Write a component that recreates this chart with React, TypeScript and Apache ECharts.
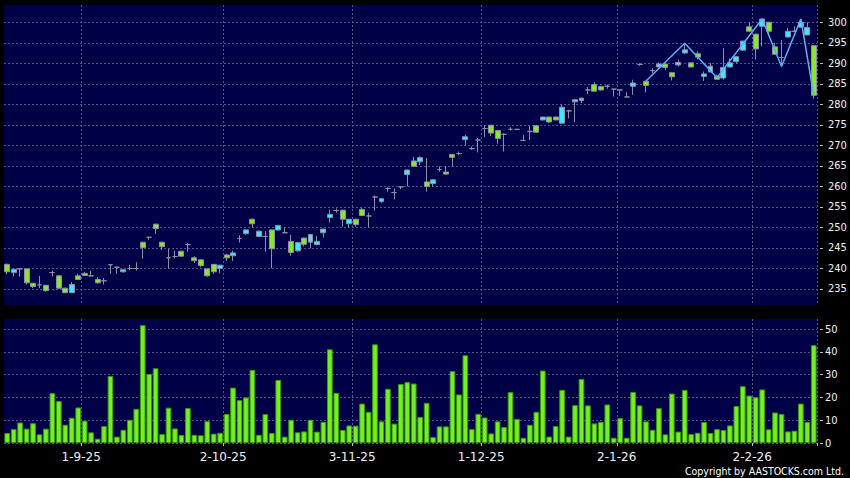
import React, { useEffect, useRef } from "react";
import * as echarts from "echarts";

// Trading days (HK), Aug 2025 - Feb 2026
const aug25 = [14, 15, 18, 19, 20, 21, 22, 25, 26, 27, 28, 29];
const sep25 = [1, 2, 3, 4, 5, 8, 9, 10, 11, 12, 15, 16, 17, 18, 19, 22, 23, 24, 25, 26, 29, 30];
const oct25 = [2, 3, 6, 8, 9, 10, 13, 14, 15, 16, 17, 20, 21, 22, 23, 24, 27, 28, 30, 31];
const nov25 = [3, 4, 5, 6, 7, 10, 11, 12, 13, 14, 17, 18, 19, 20, 21, 24, 25, 26, 27, 28];
const dec25 = [1, 2, 3, 4, 5, 8, 9, 10, 11, 12, 15, 16, 17, 18, 19, 22, 23, 24, 29, 30, 31];
const jan26 = [2, 5, 6, 7, 8, 9, 12, 13, 14, 15, 16, 19, 20, 21, 22, 23, 26, 27, 28, 29, 30];
const feb26 = [2, 3, 4, 5, 6, 9, 10, 11, 12, 13];

const monthDays: [number, number, number[]][] = [
  [8, 25, aug25], [9, 25, sep25], [10, 25, oct25], [11, 25, nov25],
  [12, 25, dec25], [1, 26, jan26], [2, 26, feb26],
];
const dates: string[] = [];
monthDays.forEach(([m, y, days]) => days.forEach((d) => dates.push(`${d}-${m}-${y}`)));

const xTickLabels = ["1-9-25", "2-10-25", "3-11-25", "1-12-25", "2-1-26", "2-2-26"];
const priceTicks = [235, 240, 245, 250, 255, 260, 265, 270, 275, 280, 285, 290, 295, 300];
const volumeTicks = [0, 10, 20, 30, 40, 50];

const opens = [
  241.0, 239.0, 239.9, 239.9, 236.4, 236.0, 235.9, 239.0, 238.2, 235.2,
  234.1, 238.2, 238.8, 238.2, 237.3, 237.0, 240.9, 240.3, 239.2, 240.0,
  240.0, 246.4, 247.6, 250.8, 246.4, 242.6, 242.9, 244.2, 245.8, 242.6,
  242.1, 239.9, 241.0, 240.0, 243.3, 243.1, 247.3, 248.5, 252.0, 247.8,
  247.8, 249.4, 249.4, 248.7, 246.6, 244.3, 247.4, 246.4, 245.8, 248.7,
  252.4, 254.1, 254.2, 250.9, 252.0, 254.4, 252.8, 257.4, 256.3, 259.5,
  258.5, 259.9, 262.9, 266.2, 266.0, 261.1, 260.7, 264.1, 263.5, 267.8,
  268.0, 271.4, 269.2, 271.3, 274.1, 274.9, 273.6, 272.7, 273.9, 273.9,
  271.2, 273.4, 274.8, 276.2, 276.9, 276.9, 275.4, 278.4, 280.6, 281.5,
  283.5, 284.8, 284.3, 284.4, 283.7, 283.5, 281.8, 284.4, 289.7, 285.6,
  288.2, 289.1, 289.8, 287.7, 289.6, 292.5, 290.1, 292.3, 286.8, 287.9,
  286.9, 286.4, 289.1, 290.4, 293.2, 298.9, 297.1, 299.0, 300.0, 294.0,
  291.4, 296.4, 297.8, 298.8, 296.9, 294.3,
];
const closes = [
  239.2, 239.8, 239.9, 236.5, 235.6, 236.0, 234.6, 239.0, 235.2, 234.1,
  236.1, 237.3, 238.3, 238.2, 236.5, 237.0, 240.9, 240.3, 239.7, 240.0,
  240.0, 245.1, 247.6, 249.7, 245.3, 242.6, 242.9, 243.0, 245.8, 241.9,
  240.7, 238.2, 239.2, 240.8, 242.6, 243.8, 247.3, 249.4, 250.9, 249.1,
  247.8, 244.8, 250.5, 248.7, 243.9, 246.3, 245.9, 248.3, 246.6, 249.6,
  253.2, 254.1, 252.0, 252.0, 250.7, 252.9, 252.8, 257.4, 257.0, 259.5,
  258.5, 259.9, 264.0, 264.9, 267.0, 260.0, 261.6, 264.1, 263.0, 267.1,
  268.0, 272.1, 269.2, 271.3, 274.1, 273.0, 271.7, 272.7, 273.9, 273.9,
  271.2, 273.4, 273.2, 276.9, 275.7, 276.2, 279.3, 278.4, 281.1, 280.9,
  283.5, 283.2, 283.5, 284.4, 283.7, 283.5, 281.8, 285.2, 289.7, 284.6,
  288.2, 289.8, 289.0, 286.7, 290.2, 293.3, 289.1, 291.5, 287.4, 289.3,
  286.1, 289.0, 290.1, 291.6, 295.4, 297.8, 293.5, 300.8, 297.8, 292.2,
  291.4, 297.8, 297.8, 300.0, 298.7, 282.2,
];
const lows = [
  238.6, 238.0, 238.0, 236.1, 235.2, 235.2, 234.3, 238.0, 235.0, 234.0,
  234.0, 237.2, 238.2, 238.0, 236.3, 236.1, 238.7, 238.7, 239.0, 239.6,
  239.5, 242.4, 247.0, 248.4, 244.5, 239.9, 242.5, 242.9, 244.1, 241.3,
  240.3, 238.0, 238.7, 238.8, 241.8, 241.8, 246.3, 248.2, 250.0, 247.6,
  244.1, 240.0, 249.2, 248.6, 243.1, 244.1, 245.4, 244.9, 245.7, 247.5,
  251.2, 253.6, 250.2, 250.0, 250.2, 252.8, 250.0, 254.1, 256.0, 258.7,
  256.8, 259.3, 260.0, 264.8, 265.2, 258.7, 260.0, 263.6, 262.9, 264.8,
  267.6, 270.0, 268.9, 268.3, 272.0, 272.3, 270.4, 268.5, 273.6, 273.7,
  271.1, 271.3, 273.0, 276.0, 275.5, 276.1, 275.3, 276.6, 275.6, 280.3,
  282.5, 283.1, 283.4, 283.8, 281.9, 282.0, 281.7, 282.3, 289.4, 282.9,
  287.6, 289.0, 288.3, 285.8, 289.2, 292.3, 289.0, 291.0, 285.7, 287.8,
  286.0, 286.0, 289.0, 290.0, 293.0, 297.6, 290.9, 294.1, 296.7, 292.0,
  289.2, 296.3, 297.6, 298.7, 296.8, 281.4,
];
const highs = [
  241.2, 239.9, 240.0, 240.0, 236.5, 238.2, 236.0, 239.5, 238.4, 235.3,
  236.7, 238.7, 239.2, 239.4, 237.9, 237.7, 241.0, 240.5, 239.8, 240.9,
  241.5, 246.5, 247.7, 250.9, 246.5, 244.8, 244.3, 244.3, 246.2, 243.0,
  242.2, 240.0, 241.1, 240.9, 243.5, 244.3, 248.1, 249.5, 252.2, 249.2,
  249.1, 249.5, 250.6, 250.0, 248.2, 246.5, 247.5, 248.4, 247.9, 249.7,
  254.3, 254.6, 254.3, 252.1, 252.1, 254.9, 253.6, 257.8, 257.2, 259.8,
  259.5, 260.1, 264.1, 267.2, 267.3, 266.9, 261.7, 264.9, 264.9, 267.9,
  268.5, 272.6, 269.7, 271.8, 274.9, 275.0, 273.7, 272.9, 274.4, 274.0,
  272.5, 274.8, 274.9, 277.0, 277.0, 277.0, 279.9, 278.7, 281.3, 281.6,
  284.2, 285.4, 284.4, 284.8, 283.8, 283.6, 282.9, 286.0, 290.0, 285.8,
  288.8, 290.2, 289.9, 287.8, 290.9, 294.9, 290.2, 292.9, 288.0, 290.1,
  287.2, 293.7, 291.2, 291.8, 295.5, 299.8, 297.2, 300.8, 300.1, 295.0,
  295.7, 298.6, 299.0, 300.8, 300.0, 294.4,
];
const volumes = [
  4.4, 6.1, 9.0, 6.3, 8.7, 3.8, 6.3, 21.9, 18.4, 8.0,
  11.1, 15.6, 9.8, 4.7, 1.9, 7.4, 29.4, 2.8, 5.8, 10.2,
  15.0, 51.7, 30.3, 32.8, 3.9, 15.5, 6.4, 3.5, 15.3, 3.6,
  3.4, 9.6, 4.1, 4.5, 12.7, 24.3, 18.8, 20.0, 32.1, 3.6,
  12.7, 4.4, 27.7, 2.8, 10.2, 4.7, 5.1, 10.2, 5.0, 9.3,
  41.1, 22.0, 5.7, 7.7, 7.6, 17.3, 13.7, 43.3, 9.5, 23.8,
  8.5, 25.9, 26.7, 26.1, 11.4, 17.6, 2.6, 7.3, 7.3, 31.5,
  21.3, 38.5, 6.1, 12.8, 11.2, 4.2, 9.5, 7.0, 22.3, 10.6,
  2.3, 8.0, 13.7, 31.8, 2.8, 7.4, 23.3, 2.8, 16.6, 28.1,
  16.5, 8.6, 9.3, 16.9, 2.3, 10.9, 2.3, 22.4, 16.5, 9.5,
  5.8, 15.3, 3.8, 21.7, 5.0, 23.3, 3.9, 4.5, 9.2, 4.4,
  6.1, 5.7, 7.7, 16.2, 24.9, 20.8, 20.1, 23.5, 6.0, 13.4,
  12.7, 5.1, 5.4, 17.3, 9.3, 42.9,
];
// ZigZag turning points: trading-day index (0-based) and price
const zigzagIdx = [99, 105, 110, 117, 120, 123, 125];
const zigzagVal = [285.7, 294.9, 286.5, 300.8, 289.2, 300.8, 282.2];

const condensed = "'DejaVu Sans Condensed', 'DejaVu Sans', sans-serif";
const gridColor = "#54548a";
const isTick = (_i: number, v: string) => xTickLabels.includes(v);

export default function App() {
  const ref = useRef<HTMLDivElement>(null);
  useEffect(() => {
    document.body.style.margin = "0";
    document.body.style.background = "#000";
    if (!ref.current) return;
    const chart = echarts.init(ref.current, null, { renderer: "svg" });
    const candles = opens.map((o, i) => [o, closes[i], lows[i], highs[i]]);
    const zigzag: (number | null)[] = dates.map(() => null);
    zigzagIdx.forEach((idx, k) => (zigzag[idx] = zigzagVal[k]));
    const splitLine = {
      show: true,
      interval: isTick,
      lineStyle: { color: gridColor, type: [2, 2], width: 1 },
    };
    const ySplit = { show: true, lineStyle: { color: gridColor, type: [2, 2], width: 1 } };
    chart.setOption({
      animation: false,
      backgroundColor: "#000",
      grid: [
        { left: 4, top: 5, width: 813, height: 300, show: true, backgroundColor: "#000046", borderWidth: 0 },
        { left: 4, top: 319, width: 813, height: 124, show: true, backgroundColor: "#000046", borderWidth: 0 },
      ],
      xAxis: [
        {
          type: "category", gridIndex: 0, data: dates, boundaryGap: true,
          axisLine: { show: false }, axisTick: { show: false }, axisLabel: { show: false },
          splitLine,
        },
        {
          type: "category", gridIndex: 1, data: dates, boundaryGap: true, offset: 3,
          axisLine: { show: false },
          axisTick: { show: true, interval: isTick, length: 3, lineStyle: { color: "#bbbbbb" } },
          axisLabel: {
            interval: isTick, color: "#f0f0f0", fontSize: 12, fontFamily: "'DejaVu Sans', sans-serif",
            margin: 5, padding: [0, 7, 0, 0],
          },
          splitLine,
        },
      ],
      yAxis: [
        {
          type: "value", gridIndex: 0, position: "right", min: 231.1, max: 304.2, splitNumber: 13, offset: 3,
          axisLine: { show: false },
          axisTick: { show: true, length: 3, lineStyle: { color: "#bbbbbb" }, customValues: priceTicks },
          axisLabel: { customValues: priceTicks, color: "#f0f0f0", fontSize: 11, margin: 8, fontFamily: condensed },
          splitLine: ySplit,
        },
        {
          type: "value", gridIndex: 1, position: "right", min: 0, max: 54.4, splitNumber: 5, offset: 3,
          axisLine: { show: false },
          axisTick: { show: true, length: 3, lineStyle: { color: "#bbbbbb" }, customValues: volumeTicks },
          axisLabel: { customValues: volumeTicks, color: "#f0f0f0", fontSize: 11, margin: 5, fontFamily: condensed },
          splitLine: ySplit,
        },
      ],
      series: [
        {
          type: "candlestick", xAxisIndex: 0, yAxisIndex: 0, data: candles, barWidth: "84%",
          itemStyle: {
            color: "#40e6ff", color0: "#86e82a",
            borderColor: "#8e8ea6", borderColor0: "#8e8ea6", borderColorDoji: "#8e8ea6", borderWidth: 1,
          },
        },
        {
          type: "line", xAxisIndex: 0, yAxisIndex: 0, data: zigzag, connectNulls: true,
          showSymbol: false, symbol: "none", lineStyle: { color: "#5ab0f5", width: 1.5 },
        },
        {
          type: "bar", xAxisIndex: 1, yAxisIndex: 1, data: volumes, barWidth: "88%",
          itemStyle: { color: "#72f022", borderColor: "#3c9612", borderWidth: 1 },
        },
      ],
      graphic: [
        {
          type: "text", right: 6, top: 465,
          style: { text: "Copyright by AASTOCKS.com Ltd.", fill: "#ffffff", font: `10.5px ${condensed}` },
        },
      ],
    });
    return () => chart.dispose();
  }, []);
  return <div ref={ref} style={{ width: 850, height: 478, background: "#000" }} />;
}
